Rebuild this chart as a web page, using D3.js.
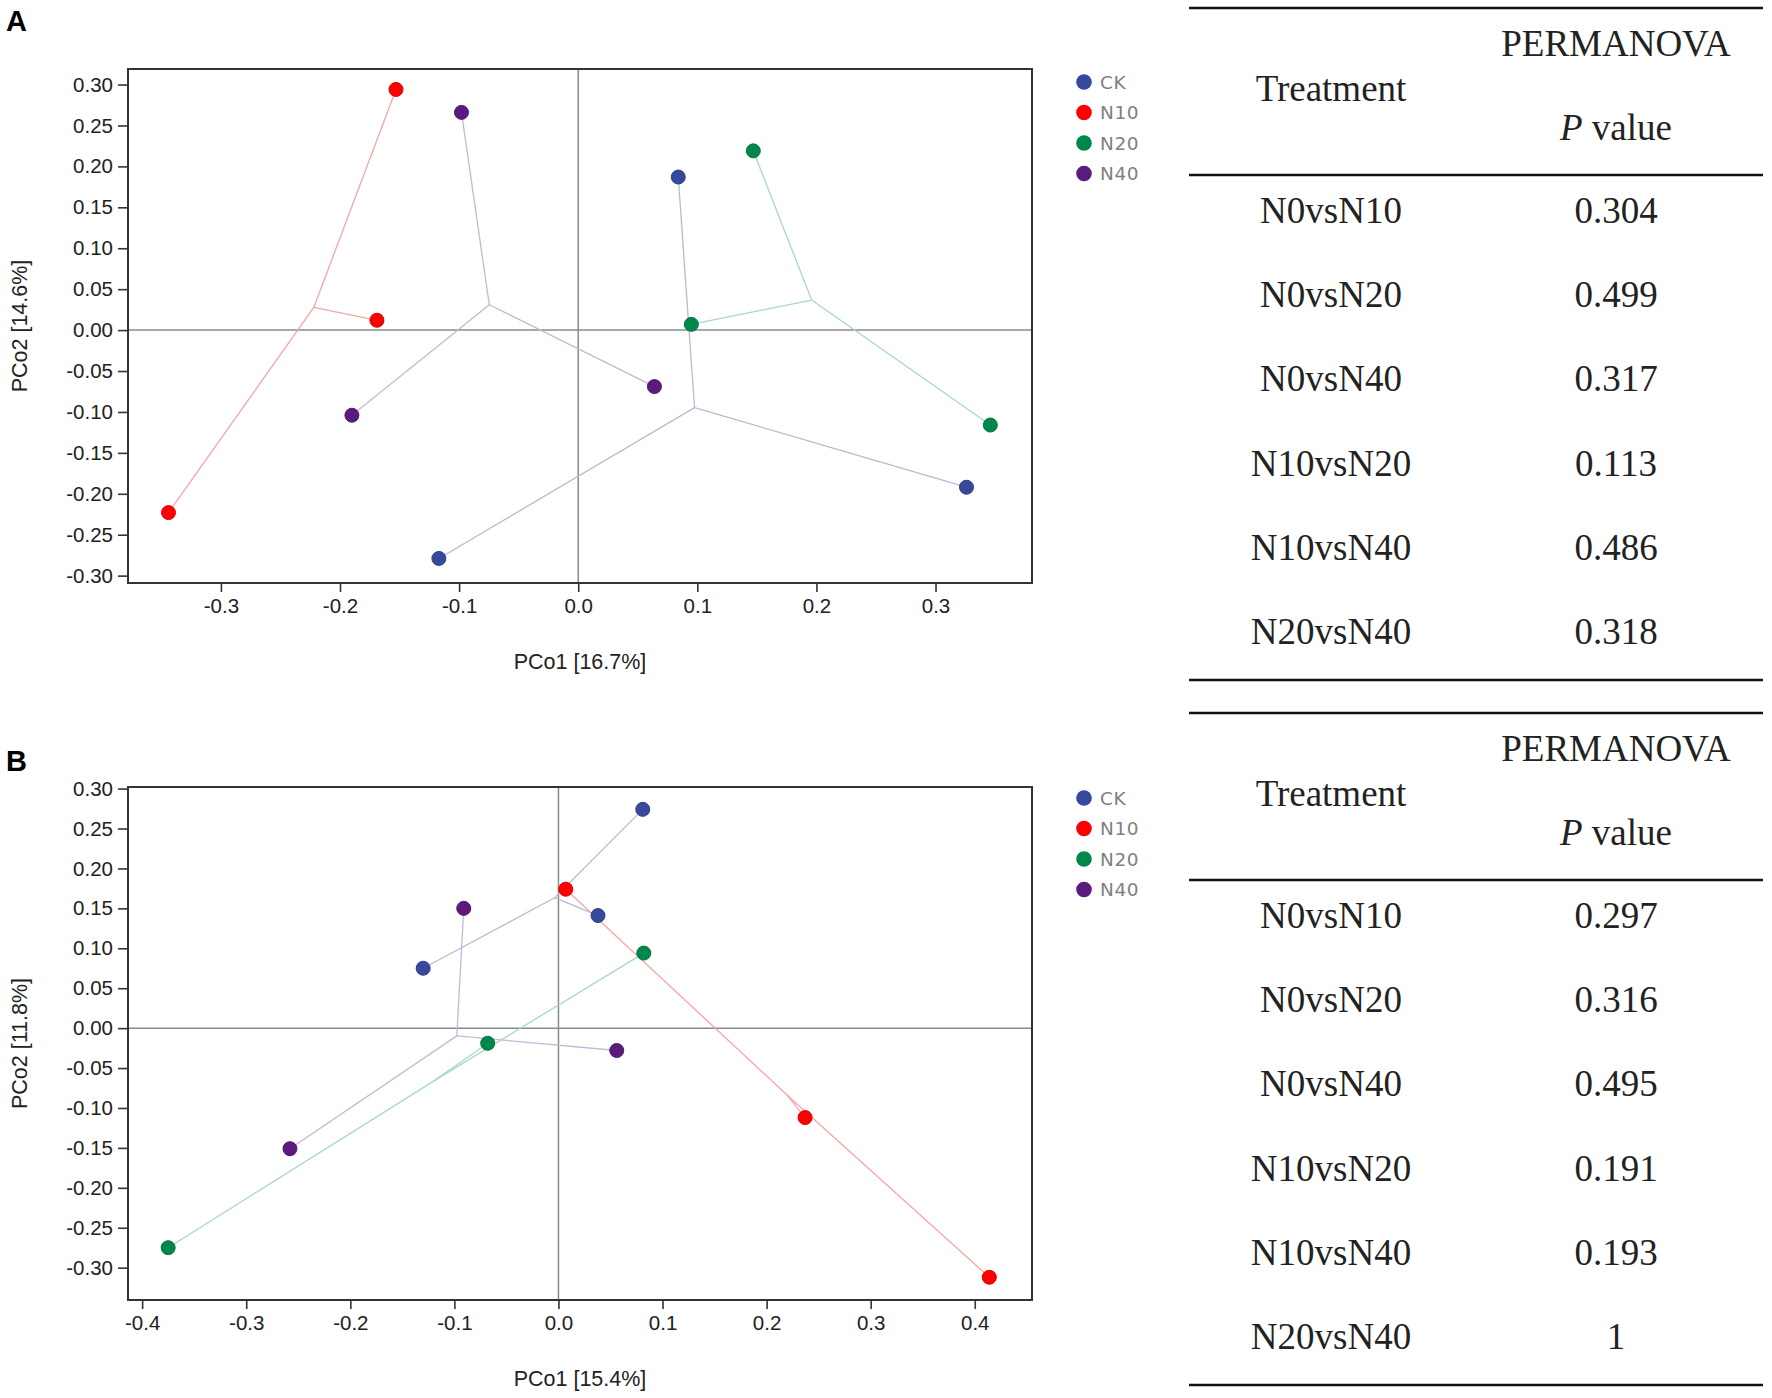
<!DOCTYPE html>
<html>
<head>
<meta charset="utf-8">
<script src="https://cdn.jsdelivr.net/npm/d3@7"></script>
<style>
  body { margin: 0; background: #fff; }
</style>
</head>
<body>
<svg id="chart" width="1772" height="1398"></svg>
<script>
// groups and legend
const groups = ["CK", "N10", "N20", "N40"];
const groupColors = ["#36499c", "#ff0000", "#00884a", "#5a1a7e"];
const spiderColors = ["#b9bad2", "#f4a6a6", "#a8d8c2", "#c4b8d6"];

// panel A sample scores [PCo1, PCo2]
const aCK  = [[0.084, 0.187], [-0.117, -0.279], [0.326, -0.192]];
const aN10 = [[-0.153, 0.294], [-0.169, 0.012], [-0.344, -0.223]];
const aN20 = [[0.147, 0.219], [0.095, 0.007], [0.346, -0.116]];
const aN40 = [[-0.098, 0.266], [-0.190, -0.104], [0.064, -0.069]];

// panel B sample scores [PCo1, PCo2]
const bCK  = [[-0.130, 0.075], [0.081, 0.274], [0.038, 0.141]];
const bN10 = [[0.007, 0.174], [0.237, -0.112], [0.414, -0.312]];
const bN20 = [[-0.375, -0.275], [-0.068, -0.019], [0.082, 0.094]];
const bN40 = [[-0.091, 0.150], [-0.258, -0.151], [0.056, -0.028]];

// axis ticks
const aXTicks = [-0.3, -0.2, -0.1, 0.0, 0.1, 0.2, 0.3];
const bXTicks = [-0.4, -0.3, -0.2, -0.1, 0.0, 0.1, 0.2, 0.3, 0.4];
const yTicks = [0.30, 0.25, 0.20, 0.15, 0.10, 0.05, 0.00, -0.05, -0.10, -0.15, -0.20, -0.25, -0.30];

// axis titles
const aXTitle = "PCo1 [16.7%]", aYTitle = "PCo2 [14.6%]";
const bXTitle = "PCo1 [15.4%]", bYTitle = "PCo2 [11.8%]";

// PERMANOVA tables
const comparisons = ["N0vsN10", "N0vsN20", "N0vsN40", "N10vsN20", "N10vsN40", "N20vsN40"];
const aPValues = ["0.304", "0.499", "0.317", "0.113", "0.486", "0.318"];
const bPValues = ["0.297", "0.316", "0.495", "0.191", "0.193", "1"];

// plain hyphen for negative tick labels
const locale = d3.formatLocale({decimal: ".", thousands: ",", grouping: [3], currency: ["", ""], minus: "-"});

let svg = d3.select("#chart");
svg.append("rect").attr("width", 1772).attr("height", 1398).attr("fill", "#fff");

const left = 128, right = 1032;
const sans = "Liberation Sans, Arial, sans-serif";

const panels = [
  {label: "A", top: 69, bottom: 583, labelY: 31, xDomain: [-0.378, 0.381], yDomain: [-0.309, 0.319],
   xTicks: aXTicks, xTitle: aXTitle, yTitle: aYTitle, sets: [aCK, aN10, aN20, aN40], legendY: 82},
  {label: "B", top: 787, bottom: 1300, labelY: 771, xDomain: [-0.4136, 0.455], yDomain: [-0.3405, 0.302],
   xTicks: bXTicks, xTitle: bXTitle, yTitle: bYTitle, sets: [bCK, bN10, bN20, bN40], legendY: 798}
];

panels.forEach(p => drawPanel(p));

function drawPanel(p) {
  let x = d3.scaleLinear().domain(p.xDomain).range([left, right]);
  let y = d3.scaleLinear().domain(p.yDomain).range([p.bottom, p.top]);

  // panel letter
  svg.append("text")
    .attr("x", 6).attr("y", p.labelY)
    .attr("font-family", sans)
    .attr("font-weight", "bold").attr("font-size", 29)
    .attr("fill", "#000")
    .text(p.label);

  // zero lines
  svg.append("line")
    .attr("x1", x(0)).attr("x2", x(0)).attr("y1", p.top).attr("y2", p.bottom)
    .attr("stroke", "#8a8a8a").attr("stroke-width", 1.5);
  svg.append("line")
    .attr("x1", left).attr("x2", right).attr("y1", y(0)).attr("y2", y(0))
    .attr("stroke", "#8a8a8a").attr("stroke-width", 1.5);

  // spider lines from group centroid to each sample
  p.sets.forEach((pts, i) => {
    let cx = d3.mean(pts, d => d[0]), cy = d3.mean(pts, d => d[1]);
    svg.append("g").selectAll("line")
      .data(pts).join("line")
      .attr("x1", x(cx)).attr("y1", y(cy))
      .attr("x2", d => x(d[0])).attr("y2", d => y(d[1]))
      .attr("stroke", spiderColors[i]).attr("stroke-width", 1.3);
  });

  // sample points
  p.sets.forEach((pts, i) => {
    svg.append("g").selectAll("circle")
      .data(pts).join("circle")
      .attr("cx", d => x(d[0])).attr("cy", d => y(d[1]))
      .attr("r", 7)
      .attr("fill", groupColors[i])
      .attr("stroke", d3.color(groupColors[i]).darker(0.4)).attr("stroke-width", 1);
  });

  // frame
  svg.append("rect")
    .attr("x", left).attr("y", p.top)
    .attr("width", right - left).attr("height", p.bottom - p.top)
    .attr("fill", "none").attr("stroke", "#333").attr("stroke-width", 2);

  // axes
  let xAxis = svg.append("g")
    .attr("transform", "translate(0," + p.bottom + ")")
    .call(d3.axisBottom(x).tickValues(p.xTicks).tickFormat(locale.format(".1f")).tickSize(9).tickPadding(6));
  let yAxis = svg.append("g")
    .attr("transform", "translate(" + left + ",0)")
    .call(d3.axisLeft(y).tickValues(yTicks).tickFormat(locale.format(".2f")).tickSize(10).tickPadding(5));
  [xAxis, yAxis].forEach(ax => {
    ax.select(".domain").remove();
    ax.selectAll("line").attr("stroke", "#333").attr("stroke-width", 1.6);
    ax.selectAll("text")
      .attr("font-family", sans)
      .attr("font-size", 20.5).attr("fill", "#222");
  });

  // axis titles
  svg.append("text")
    .attr("x", (left + right) / 2).attr("y", p.bottom + 86)
    .attr("text-anchor", "middle")
    .attr("font-family", sans)
    .attr("font-size", 21.5).attr("fill", "#222")
    .text(p.xTitle);
  svg.append("text")
    .attr("transform", "translate(27," + (p.top + p.bottom) / 2 + ") rotate(-90)")
    .attr("text-anchor", "middle")
    .attr("font-family", sans)
    .attr("font-size", 21.5).attr("fill", "#222")
    .text(p.yTitle);

  // legend
  let legend = svg.append("g").selectAll("g")
    .data(groups).join("g")
    .attr("transform", (d, i) => "translate(1084," + (p.legendY + i * 30.5) + ")");
  legend.append("circle")
    .attr("r", 7.8)
    .attr("fill", (d, i) => groupColors[i]);
  legend.append("text")
    .attr("x", 16).attr("dy", "0.36em")
    .attr("font-family", "DejaVu Sans, sans-serif")
    .attr("font-size", 18.5).attr("letter-spacing", 0.6).attr("fill", "#808080")
    .text(d => d);
}

// PERMANOVA tables
const tables = [
  {top: 8, values: aPValues},
  {top: 713, values: bPValues}
];

tables.forEach(t => drawTable(t));

function drawTable(t) {
  const x1 = 1189, x2 = 1763, col1 = 1331, col2 = 1616;
  let g = svg.append("g")
    .attr("font-family", "Liberation Serif, Times New Roman, serif")
    .attr("font-size", 37).attr("fill", "#222");

  [t.top, t.top + 167, t.top + 672].forEach(ly => {
    g.append("line")
      .attr("x1", x1).attr("x2", x2).attr("y1", ly).attr("y2", ly)
      .attr("stroke", "#111").attr("stroke-width", 2.5);
  });

  g.append("text").attr("x", col1).attr("y", t.top + 80 + 13)
    .attr("text-anchor", "middle").text("Treatment");
  g.append("text").attr("x", col2).attr("y", t.top + 35 + 13)
    .attr("text-anchor", "middle").text("PERMANOVA");
  let pv = g.append("text").attr("x", col2).attr("y", t.top + 119 + 13)
    .attr("text-anchor", "middle");
  pv.append("tspan").attr("font-style", "italic").text("P");
  pv.append("tspan").text(" value");

  let rowY = d3.scaleLinear().domain([0, comparisons.length - 1]).range([t.top + 202, t.top + 623]);
  g.selectAll(".row")
    .data(comparisons).join("text")
    .attr("x", col1).attr("y", (d, i) => rowY(i) + 13)
    .attr("text-anchor", "middle").text(d => d);
  g.selectAll(".pval")
    .data(t.values).join("text")
    .attr("x", col2).attr("y", (d, i) => rowY(i) + 13)
    .attr("text-anchor", "middle").text(d => d);
}
</script>
</body>
</html>
